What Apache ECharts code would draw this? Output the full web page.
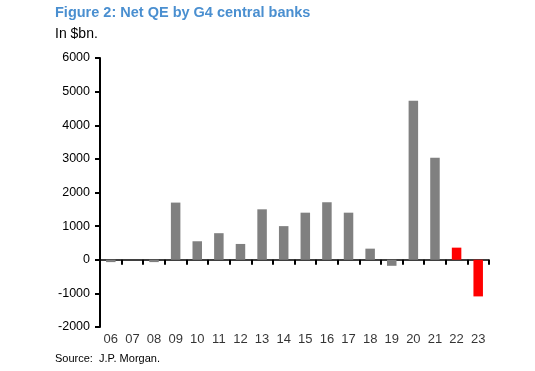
<!DOCTYPE html>
<html><head><meta charset="utf-8">
<script src="https://cdn.jsdelivr.net/npm/echarts@6/dist/echarts.min.js"></script>
<style>html,body{margin:0;padding:0;background:#fff}#c{width:535px;height:371px}</style>
</head><body><div id="c"></div>
<script>
const categories = ['06','07','08','09','10','11','12','13','14','15','16','17','18','19','20','21','22','23'];
const values = [-70, 0, -70, 1700, 550, 790, 470, 1500, 1000, 1400, 1710, 1400, 330, -180, 4730, 3030, 360, -1090];
const highlighted = ['22','23'];
const yTicks = [-2000, -1000, 0, 1000, 2000, 3000, 4000, 5000, 6000];

const chart = echarts.init(document.getElementById('c'), null, {renderer:'canvas'});
const font = 'Arial, "Liberation Sans", sans-serif';
chart.setOption({
  animation:false,
  title:[
    {text:'Figure 2: Net QE by G4 central banks', left:55, top:5, padding:0, textStyle:{fontFamily:font, fontSize:14.5, fontWeight:'bold', color:'#4a8fd0'}},
    {text:'In $bn.', left:55, top:27, padding:0, textStyle:{fontFamily:font, fontSize:14, fontWeight:'normal', color:'#000'}},
    {text:'Source:  J.P. Morgan.', left:55, top:353, padding:0, textStyle:{fontFamily:font, fontSize:11, fontWeight:'normal', color:'#000'}}
  ],
  grid:{left:100, right:46, top:58, bottom:44, containLabel:false},
  xAxis:{
    type:'category', data:categories, position:'bottom',
    axisLine:{onZero:true, lineStyle:{color:'#000', width:1.5}},
    axisTick:{show:true, alignWithLabel:false, inside:false, length:5, lineStyle:{color:'#000', width:2}},
    axisLabel:{show:false}
  },
  yAxis:{
    type:'value', min:yTicks[0], max:yTicks[yTicks.length-1], interval:1000,
    axisLine:{show:true, lineStyle:{color:'#000', width:2}},
    axisTick:{show:true, length:5, lineStyle:{color:'#000', width:2}},
    axisLabel:{fontFamily:font, fontSize:12.5, color:'#000', margin:10, formatter:v=>String(v)},
    splitLine:{show:false}
  },
  series:[{
    type:'bar', barWidth:'44%',
    data: values.map((v,i)=>({value:v, itemStyle:{color: highlighted.includes(categories[i]) ? '#ff0000' : '#808080'}}))
  },{
    type:'scatter', symbolSize:0, silent:true,
    data: categories.map(c=>[c, yTicks[0]]),
    label:{show:true, position:'bottom', distance:6, formatter:p=>p.value[0], fontFamily:font, fontSize:13, color:'#000'}
  }]
});
</script></body></html>
